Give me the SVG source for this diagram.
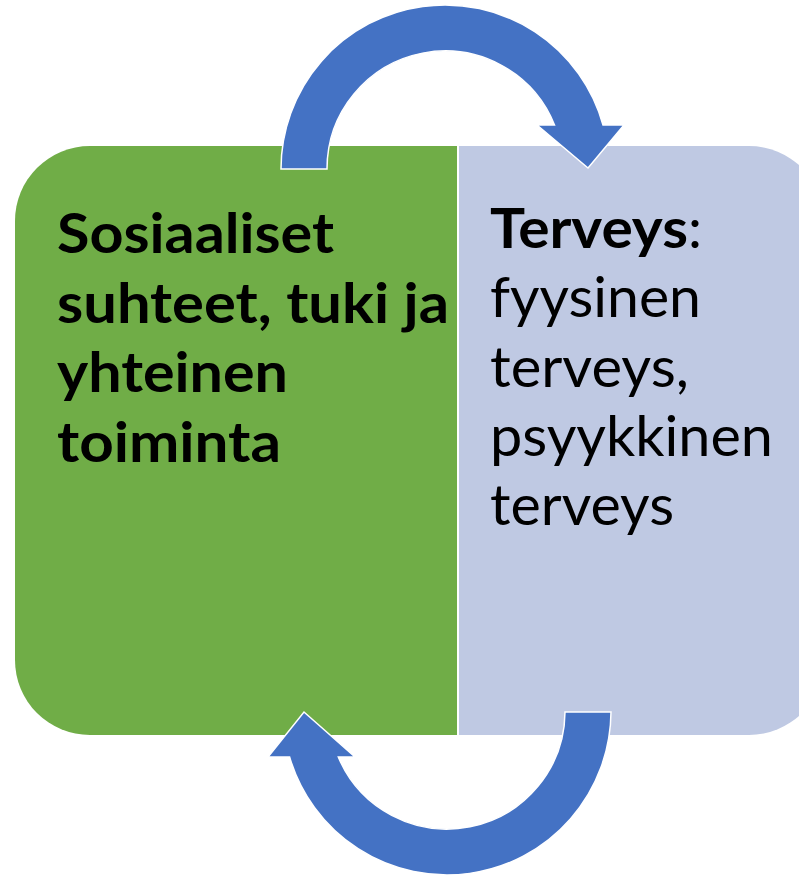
<svg xmlns="http://www.w3.org/2000/svg" width="799" height="876" viewBox="0 0 799 876">
<style>
.t{font-family:Lato,"Open Sans","Liberation Sans",sans-serif;font-size:56px;fill:#000}
.b{font-weight:bold}
.arrow{fill:#4472C4;stroke:#fff;stroke-width:1.5;stroke-linejoin:miter}
</style>
<rect width="799" height="876" fill="#fff"/>
<g id="node-social">
<path d="M90,146 H457 V735 H90 A75,75 0 0 1 15,660 V221 A75,75 0 0 1 90,146 Z" fill="#70AD47"/>
<text class="t b" x="57" y="253" textLength="277" lengthAdjust="spacingAndGlyphs">Sosiaaliset</text>
<text class="t b" x="57" y="323" textLength="392" lengthAdjust="spacingAndGlyphs">suhteet, tuki ja</text>
<text class="t b" x="57" y="392" textLength="231" lengthAdjust="spacingAndGlyphs">yhteinen</text>
<text class="t b" x="57" y="462" textLength="224" lengthAdjust="spacingAndGlyphs">toiminta</text>
</g>
<g id="node-health">
<path d="M459,146 H749 A75,75 0 0 1 824,221 V660 A75,75 0 0 1 749,735 H459 Z" fill="#BFC9E3"/>
<text class="t b" x="490" y="248" textLength="198" lengthAdjust="spacingAndGlyphs">Terveys</text>
<text class="t" x="688" y="248">:</text>
<text class="t" x="490" y="317" textLength="211" lengthAdjust="spacingAndGlyphs">fyysinen</text>
<text class="t" x="490" y="387" textLength="199" lengthAdjust="spacingAndGlyphs">terveys,</text>
<text class="t" x="490" y="456" textLength="283" lengthAdjust="spacingAndGlyphs">psyykkinen</text>
<text class="t" x="490" y="525" textLength="184" lengthAdjust="spacingAndGlyphs">terveys</text>
</g>
<g id="connectors">
<path class="arrow" d="M281,169 A164,164 0 0 1 603,125 L624,125 L588,168 L537,125 L554.5,125 A118,118 0 0 0 327,169 Z"/>
<path class="arrow" d="M611,712 A164,164 0 0 1 289.6,757 L268,757 L304,712 L355,757 L338.3,757 A118,118 0 0 0 565,712 Z"/>
</g>
</svg>
